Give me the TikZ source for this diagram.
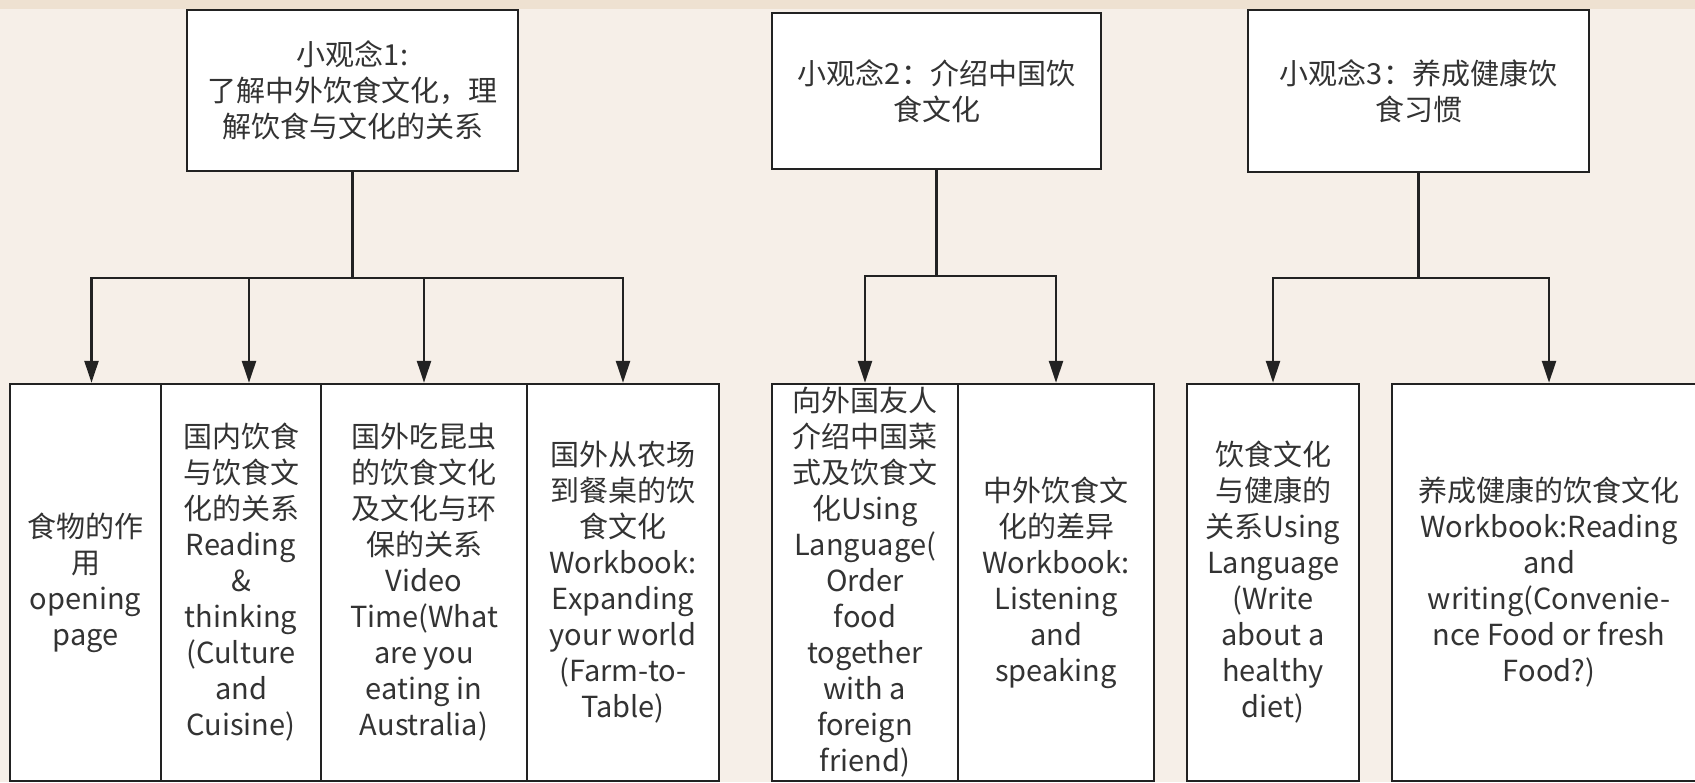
\documentclass[tikz,border=0pt]{standalone}
\usepackage{fontspec}
\setmainfont{Noto Sans CJK SC}
\usetikzlibrary{arrows.meta}

\definecolor{paper}{RGB}{246,239,232}
\definecolor{band}{RGB}{238,225,209}
\definecolor{ink}{RGB}{34,34,34}
\definecolor{txt}{RGB}{51,51,51}

\tikzset{every picture/.style={line width=0.75pt}}
\tikzset{
  idea/.style={draw=ink, line width=1.25pt, fill=white, text=txt, align=center,
    inner sep=0pt, font=\fontsize{14.5}{18}\selectfont},
  leaf/.style={idea, minimum height=198.5pt},
  conn/.style={draw=ink, line width=1.25pt, -{Triangle[length=11pt,width=7pt]}},
}

\begin{document}
\begin{tikzpicture}[x=0.5pt,y=0.5pt,yscale=-1,xscale=1]

	% Background
	\useasboundingbox (0,0) rectangle (1695,782);
	\fill [paper] (0,0) rectangle (1695,782);
	\fill [band] (0,0) rectangle (1695,9);

	% Top boxes
	\node [idea, minimum width=165.5pt, minimum height=80.5pt] (t1) at (352.5,90.5) {小观念1:\\了解中外饮食文化，理\\解饮食与文化的关系};
	\node [idea, minimum width=164.5pt, minimum height=78pt] (t2) at (936.5,91) {小观念2：介绍中国饮\\食文化};
	\node [idea, minimum width=170.5pt, minimum height=81pt] (t3) at (1418.5,91) {小观念3：养成健康饮\\食习惯};

	% Bottom boxes
	\node [leaf, minimum width=75.5pt] (b1) at (85.5,582.5) {食物的作\\用\\opening\\page};
	\node [leaf, minimum width=80pt] (b2) at (241,582.5) {国内饮食\\与饮食文\\化的关系\\Reading\\\&\\thinking\\(Culture\\and\\Cuisine)};
	\node [leaf, minimum width=103pt] (b3) at (424,582.5) {国外吃昆虫\\的饮食文化\\及文化与环\\保的关系\\Video\\Time(What\\are you\\eating in\\Australia)};
	\node [leaf, minimum width=96pt] (b4) at (623,582.5) {国外从农场\\到餐桌的饮\\食文化\\Workbook:\\Expanding\\your world\\(Farm-to-\\Table)};
	\node [leaf, minimum width=93pt] (b5) at (865,582.5) {向外国友人\\介绍中国菜\\式及饮食文\\化Using\\Language(\\Order\\food\\together\\with a\\foreign\\friend)};
	\node [leaf, minimum width=98pt] (b6) at (1056,582.5) {中外饮食文\\化的差异\\Workbook:\\Listening\\and\\speaking};
	\node [leaf, minimum width=86pt] (b7) at (1273,582.5) {饮食文化\\与健康的\\关系Using\\Language\\(Write\\about a\\healthy\\diet)};
	\node [leaf, minimum width=157pt] (b8) at (1549,582.5) {养成健康的饮食文化\\Workbook:Reading\\and\\writing(Convenie-\\nce Food or fresh\\Food?)};

	% Junctions
	\coordinate (j1) at (352.5,278);
	\coordinate (j2) at (936.5,276);
	\coordinate (j3) at (1418.5,278);

	% Connectors
	\draw [conn] (t1.south) -- (j1) -| ([xshift=3pt]b1.north);
	\draw [conn] (t1.south) -- (j1) -| ([xshift=4pt]b2.north);
	\draw [conn] (t1.south) -- (j1) -| (b3.north);
	\draw [conn] (t1.south) -- (j1) -| (b4.north);
	\draw [conn] (t2.south) -- (j2) -| (b5.north);
	\draw [conn] (t2.south) -- (j2) -| (b6.north);
	\draw [conn] (t3.south) -- (j3) -| (b7.north);
	\draw [conn] (t3.south) -- (j3) -| (b8.north);

\end{tikzpicture}
\end{document}
